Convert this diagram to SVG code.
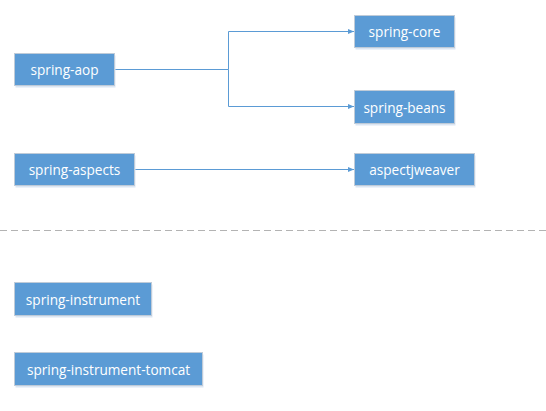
<svg xmlns="http://www.w3.org/2000/svg" width="546" height="411" viewBox="0 0 546 411">
<style>
.box{fill:#5b9bd5;stroke:#bfcbd8;stroke-width:1}
.sh{fill:#dbe6f3}
.lbl{font-family:"Open Sans","Noto Sans",sans-serif;font-size:13.6px;fill:#ffffff;text-anchor:middle;dominant-baseline:central}
.edge{fill:none;stroke:#5b9bd5;stroke-width:1}
</style>
<defs>
<marker id="arr" viewBox="0 0 6 6" refX="6" refY="3" markerWidth="6" markerHeight="6" markerUnits="userSpaceOnUse" orient="auto">
<path d="M0,0.5 L6,3 L0,5.5 z" fill="#5b9bd5"/>
</marker>
</defs>
<rect width="546" height="411" fill="#ffffff"/>
<g id="connectors">
<path class="edge" d="M114.5,69.5 H228.5 V31.5 H354" marker-end="url(#arr)"/>
<path class="edge" d="M228.5,69.5 V106.5 H354" marker-end="url(#arr)"/>
<path class="edge" d="M134.5,169.5 H354" marker-end="url(#arr)"/>
</g>
<line x1="0" y1="230.5" x2="546" y2="230.5" stroke="#b3b3b3" stroke-width="1" stroke-dasharray="7,4"/>
<g id="spring-aop"><rect class="sh" x="15.5" y="55.5" width="100" height="32"/><rect class="box" x="14.5" y="53.5" width="100" height="32"/><text class="lbl" x="64.5" y="69.5">spring-aop</text></g>
<g id="spring-core"><rect class="sh" x="355.5" y="17.5" width="100" height="32"/><rect class="box" x="354.5" y="15.5" width="100" height="32"/><text class="lbl" x="404.5" y="31.5">spring-core</text></g>
<g id="spring-beans"><rect class="sh" x="355.5" y="92.5" width="100" height="33"/><rect class="box" x="354.5" y="90.5" width="100" height="33"/><text class="lbl" x="404.5" y="107">spring-beans</text></g>
<g id="spring-aspects"><rect class="sh" x="15.5" y="155.5" width="120" height="32"/><rect class="box" x="14.5" y="153.5" width="120" height="32"/><text class="lbl" x="74.5" y="169.5">spring-aspects</text></g>
<g id="aspectjweaver"><rect class="sh" x="355.5" y="155.5" width="120" height="32"/><rect class="box" x="354.5" y="153.5" width="120" height="32"/><text class="lbl" x="414.5" y="169.5">aspectjweaver</text></g>
<g id="spring-instrument"><rect class="sh" x="15.5" y="284.5" width="137" height="33"/><rect class="box" x="14.5" y="282.5" width="137" height="33"/><text class="lbl" x="83" y="299">spring-instrument</text></g>
<g id="spring-instrument-tomcat"><rect class="sh" x="15.5" y="354.5" width="188" height="33"/><rect class="box" x="14.5" y="352.5" width="188" height="33"/><text class="lbl" x="108.5" y="369">spring-instrument-tomcat</text></g>
</svg>
